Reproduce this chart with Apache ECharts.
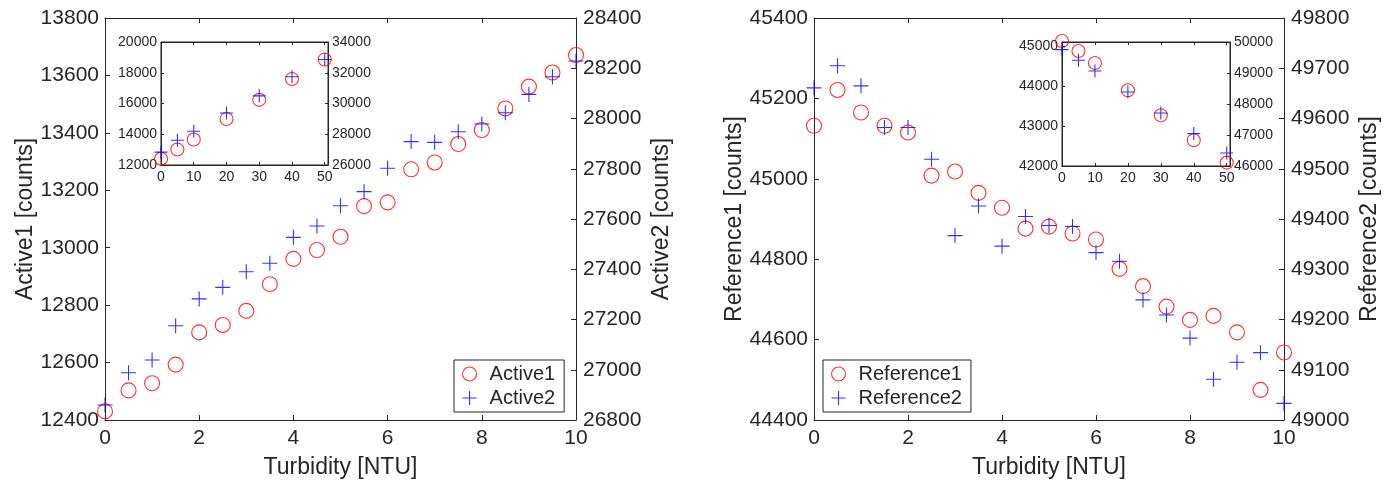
<!DOCTYPE html>
<html>
<head>
<meta charset="utf-8">
<script src="https://cdn.jsdelivr.net/npm/echarts@6/dist/echarts.min.js"></script>
<style>
html,body{margin:0;padding:0;background:#fff;}
#chart{width:1397px;height:485px;}
</style>
</head>
<body>
<div id="chart"></div>
<script>
// ---- data ----
const turbidity = [0,0.5,1,1.5,2,2.5,3,3.5,4,4.5,5,5.5,6,6.5,7,7.5,8,8.5,9,9.5,10];
const active1 = [12430,12503,12528,12593,12705,12731,12780,12873,12961,12992,13038,13145,13158,13273,13297,13361,13410,13485,13561,13610,13671];
const active2 = [26860,26988,27039,27175,27282,27328,27390,27424,27527,27572,27653,27709,27802,27908,27905,27947,27978,28023,28096,28166,28229];
const reference1 = [45132,45221,45165,45132,45115,45008,45018,44965,44928,44876,44881,44864,44849,44776,44733,44682,44649,44659,44618,44475,44568];
const reference2 = [49661,49705,49665,49582,49582,49519,49367,49426,49346,49405,49387,49385,49333,49316,49239,49209,49163,49081,49115,49134,49033];

const insetTurbidity = [0,5,10,20,30,40,50];
const active1Inset = [12413,13013,13658,14994,16239,17594,18865];
const active2Inset = [26839,27613,28194,29381,30497,31742,32865];
const reference1Inset = [45125,44875,44575,43893,43268,42643,42085];
const reference2Inset = [49755,49410,49065,48387,47710,47045,46419];

const mainXTicks = {min:0, max:10, interval:2};
const activeLeftTicks = {min:12400, max:13800, interval:200};
const activeRightTicks = {min:26800, max:28400, interval:200};
const refLeftTicks = {min:44400, max:45400, interval:200};
const refRightTicks = {min:49000, max:49800, interval:100};
const insetXTicks = {min:0, max:51, interval:10};
const activeInsetLeftTicks = {min:12000, max:20000, interval:2000};
const activeInsetRightTicks = {min:26000, max:34000, interval:2000};
const refInsetLeftTicks = {min:42000, max:45100, interval:1000};
const refInsetRightTicks = {min:46000, max:50000, interval:1000};

// ---- styles ----
const FONT = '"Liberation Sans", Arial, Helvetica, sans-serif';
const AX = '#262626';
const RED = '#ff0000';
const BLUE = '#0000ff';
const PLUS = 'path://M0,10L20,10M10,0L10,20';

function pairs(xs, ys){ return xs.map((x,i)=>[x, ys[i]]); }
const onTick = (ticks)=> (v)=> (Math.abs(v/ticks.interval - Math.round(v/ticks.interval))<1e-9 ? String(v) : '');

function makeX(grid, ticks, opt){
  return Object.assign({
    type:'value', gridIndex:grid, min:ticks.min, max:ticks.max, interval:ticks.interval,
    position:'bottom',
    axisLine:{show:true, onZero:false, lineStyle:{color:AX, width:1}},
    axisTick:{show:true, inside:true, length:5, lineStyle:{color:AX}},
    splitLine:{show:false},
    axisLabel:{show:true, color:AX, fontFamily:FONT, fontSize:21, margin:8, hideOverlap:false, formatter:onTick(ticks)},
    nameTextStyle:{color:AX, fontFamily:FONT, fontSize:23},
  }, opt||{});
}
function makeY(grid, ticks, opt){
  return Object.assign({
    type:'value', gridIndex:grid, min:ticks.min, max:ticks.max, interval:ticks.interval,
    position:'left',
    axisLine:{show:true, onZero:false, lineStyle:{color:AX, width:1}},
    axisTick:{show:true, inside:true, length:5, lineStyle:{color:AX}},
    splitLine:{show:false},
    axisLabel:{show:true, color:AX, fontFamily:FONT, fontSize:21, margin:6, hideOverlap:false, formatter:onTick(ticks)},
    nameLocation:'middle',
    nameTextStyle:{color:AX, fontFamily:FONT, fontSize:23},
  }, opt||{});
}
const insetLabel = (ticks, margin)=>({show:true, color:AX, fontFamily:FONT, fontSize:14, margin:margin, hideOverlap:false, formatter:onTick(ticks)});
const insetTick = {show:true, inside:true, length:3, lineStyle:{color:AX}};
const rightMainLabel = (ticks)=>({show:true, color:AX, fontFamily:FONT, fontSize:21, margin:7, hideOverlap:false, formatter:onTick(ticks)});

const xAxes = [
  makeX(0, mainXTicks, {name:'Turbidity [NTU]', nameLocation:'middle', nameGap:36}),
  makeX(0, mainXTicks, {position:'top', axisLabel:{show:false}}),
  makeX(1, insetXTicks, {axisLabel:insetLabel(insetXTicks,5), axisTick:insetTick}),
  makeX(1, insetXTicks, {position:'top', axisLabel:{show:false}, axisTick:insetTick}),
  makeX(2, mainXTicks, {name:'Turbidity [NTU]', nameLocation:'middle', nameGap:36}),
  makeX(2, mainXTicks, {position:'top', axisLabel:{show:false}}),
  makeX(3, insetXTicks, {axisLabel:insetLabel(insetXTicks,5), axisTick:insetTick}),
  makeX(3, insetXTicks, {position:'top', axisLabel:{show:false}, axisTick:insetTick}),
];
const yAxes = [
  makeY(0, activeLeftTicks, {name:'Active1 [counts]', nameGap:66}),
  makeY(0, activeRightTicks, {position:'right', name:'Active2 [counts]', nameGap:74, axisLabel:rightMainLabel(activeRightTicks)}),
  makeY(1, activeInsetLeftTicks, {axisLabel:insetLabel(activeInsetLeftTicks,4), axisTick:insetTick}),
  makeY(1, activeInsetRightTicks, {position:'right', axisLabel:insetLabel(activeInsetRightTicks,4), axisTick:insetTick}),
  makeY(2, refLeftTicks, {name:'Reference1 [counts]', nameGap:68}),
  makeY(2, refRightTicks, {position:'right', name:'Reference2 [counts]', nameGap:74, axisLabel:rightMainLabel(refRightTicks)}),
  makeY(3, refInsetLeftTicks, {axisLabel:insetLabel(refInsetLeftTicks,4), axisTick:insetTick}),
  makeY(3, refInsetRightTicks, {position:'right', axisLabel:insetLabel(refInsetRightTicks,4), axisTick:insetTick}),
];

function circleSeries(name, xi, yi, data, size){
  return {type:'scatter', name:name, xAxisIndex:xi, yAxisIndex:yi, data:data, symbol:'circle', symbolSize:size, clip:false,
    itemStyle:{color:'rgba(0,0,0,0)', borderColor:RED, borderWidth:1.1}, emphasis:{disabled:true}, z:6};
}
function plusSeries(name, xi, yi, data, size){
  return {type:'scatter', name:name, xAxisIndex:xi, yAxisIndex:yi, data:data, symbol:PLUS, symbolSize:size, clip:false,
    itemStyle:{color:'rgba(0,0,0,0)', borderColor:BLUE, borderWidth:1.1}, emphasis:{disabled:true}, z:7};
}

const legendBase = {
  orient:'vertical', backgroundColor:'#fff', borderColor:AX, borderWidth:1,
  padding:[4,9,4,8], itemGap:4, itemWidth:30, itemHeight:14, itemTextGap:5,
  textStyle:{color:AX, fontFamily:FONT, fontSize:20}, selectedMode:false, z:8
};
const circleIcon = {icon:'circle', itemStyle:{color:'rgba(0,0,0,0)', borderColor:RED, borderWidth:1.1}};
const plusIcon = {icon:PLUS, itemStyle:{color:'rgba(0,0,0,0)', borderColor:BLUE, borderWidth:1.1}};

const option = {
  animation:false,
  backgroundColor:'#fff',
  grid:[
    {left:105, top:18, width:471, height:402, show:false, outerBoundsMode:'none', containLabel:false},
    {left:161, top:42, width:167, height:123, show:true, backgroundColor:'#fff', borderColor:AX, borderWidth:1, outerBoundsMode:'none', containLabel:false},
    {left:814, top:18, width:470, height:402, show:false, outerBoundsMode:'none', containLabel:false},
    {left:1062, top:42, width:168, height:124, show:true, backgroundColor:'#fff', borderColor:AX, borderWidth:1, outerBoundsMode:'none', containLabel:false},
  ],
  xAxis:xAxes,
  yAxis:yAxes,
  legend:[
    Object.assign({}, legendBase, {left:454, top:360, data:[Object.assign({name:'Active1'},circleIcon), Object.assign({name:'Active2'},plusIcon)]}),
    Object.assign({}, legendBase, {left:823, top:360, data:[Object.assign({name:'Reference1'},circleIcon), Object.assign({name:'Reference2'},plusIcon)]}),
  ],
  series:[
    circleSeries('Active1', 0, 0, pairs(turbidity, active1), 15),
    plusSeries('Active2', 0, 1, pairs(turbidity, active2), 15),
    circleSeries('Active1 inset', 2, 2, pairs(insetTurbidity, active1Inset), 13),
    plusSeries('Active2 inset', 2, 3, pairs(insetTurbidity, active2Inset), 13),
    circleSeries('Reference1', 4, 4, pairs(turbidity, reference1), 15),
    plusSeries('Reference2', 4, 5, pairs(turbidity, reference2), 15),
    circleSeries('Reference1 inset', 6, 6, pairs(insetTurbidity, reference1Inset), 13),
    plusSeries('Reference2 inset', 6, 7, pairs(insetTurbidity, reference2Inset), 13),
  ]
};
const chart = echarts.init(document.getElementById('chart'), null, {renderer:'canvas'});
chart.setOption(option);
</script>
</body>
</html>
